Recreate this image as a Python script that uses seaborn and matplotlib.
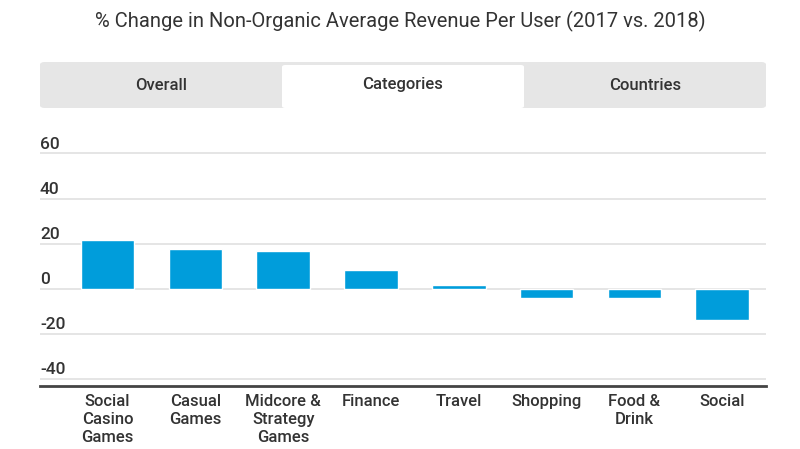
import numpy as np
import pandas as pd
import matplotlib
matplotlib.use('Agg')
import matplotlib.pyplot as plt
import seaborn as sns
from matplotlib.patches import FancyBboxPatch
import matplotlib.transforms as mtransforms

categories = ['Social\nCasino\nGames', 'Casual\nGames', 'Midcore &\nStrategy\nGames', 'Finance',
              'Travel', 'Shopping', 'Food &\nDrink', 'Social']
pct_change = [21.5, 17.7, 16.5, 8.2, 1.5, -4.2, -4.2, -14.1]
y_ticks = [-40, -20, 0, 20, 40, 60]
tabs = ['Overall', 'Categories', 'Countries']
active_tab = 'Categories'
title = '% Change in Non-Organic Average Revenue Per User (2017 vs. 2018)'

df = pd.DataFrame({'category': categories, 'pct': pct_change})

sns.set_style('white')
plt.rcParams['font.family'] = ['Roboto', 'DejaVu Sans']

text_col = '#333333'
bar_col = '#009ddb'

fig = plt.figure(figsize=(8, 4.49), dpi=100)
ax = fig.add_axes([0.05, 0.1403, 0.9075, 0.548])

sns.barplot(data=df, x='category', y='pct', color=bar_col, width=0.61,
            saturation=1, ax=ax, zorder=3)

ax.set_xlim(-0.77, 7.5)
ax.set_ylim(-43.2, 66)
ax.set_yticks(y_ticks)
ax.set_yticklabels([])
ax.tick_params(axis='y', length=0)
ax.yaxis.grid(True, color='#e0e0e0', linewidth=1.2, zorder=0)
ax.set_axisbelow(True)
for s in ['top', 'right', 'left']:
    ax.spines[s].set_visible(False)
ax.spines['bottom'].set_color('#444444')
ax.spines['bottom'].set_linewidth(2)
ax.set_xlabel('')
ax.set_ylabel('')
ax.tick_params(axis='x', length=0, pad=6, labelsize=12, labelcolor=text_col)
for lbl in ax.get_xticklabels():
    lbl.set_linespacing(1.25)
    lbl.set_va('top')
    lbl.set_fontweight('medium')

# y tick labels sit above the gridlines at the left edge
trans = mtransforms.blended_transform_factory(ax.transAxes, ax.transData)
for v in y_ticks:
    ax.text(0.0, v + 0.6, f'{v}', transform=trans, ha='left', va='bottom',
            fontsize=12.5, color=text_col, fontweight='medium')

fig.text(0.5, 0.952, title, ha='center', va='center', fontsize=14.5, color=text_col)

# tab strip
tab_left, tab_right = 40 / 800, 766 / 800
tab_bot, tab_top = 1 - 108 / 449, 1 - 62 / 449
tab_w = (tab_right - tab_left) / len(tabs)
fig.patches.append(FancyBboxPatch((tab_left, tab_bot), tab_right - tab_left, tab_top - tab_bot,
                                  boxstyle='round,pad=0,rounding_size=0.006',
                                  transform=fig.transFigure, facecolor='#e6e6e6',
                                  edgecolor='none', zorder=0))
for i, t in enumerate(tabs):
    x0 = tab_left + i * tab_w
    if t == active_tab:
        fig.patches.append(FancyBboxPatch((x0, tab_bot), tab_w, (1 - 65 / 449) - tab_bot,
                                          boxstyle='round,pad=0,rounding_size=0.004',
                                          transform=fig.transFigure, facecolor='white',
                                          edgecolor='none', zorder=1))
    fig.text(x0 + tab_w / 2, 1 - 85 / 449, t, ha='center', va='center',
             fontsize=12, color=text_col, fontweight='medium', zorder=2)

fig.savefig('out.png', dpi=100)
